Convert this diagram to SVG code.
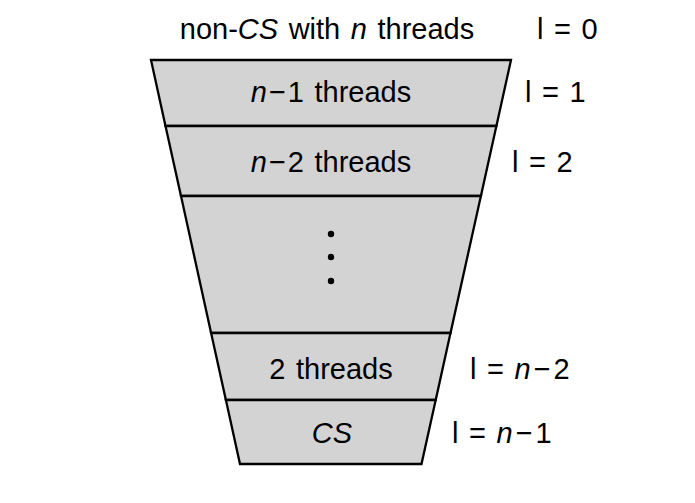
<svg xmlns="http://www.w3.org/2000/svg" width="695" height="503" viewBox="0 0 695 503">
<style>
text{font-family:"Liberation Sans",Arial,sans-serif;font-size:29px;word-spacing:2.5px;fill:#000}
.band{fill:#d3d3d3;stroke:#000;stroke-width:2.3;stroke-linejoin:miter}
.c{text-anchor:middle}
.i{font-style:italic}
</style>
<rect width="695" height="503" fill="#fff"/>
<g id="top">
<text x="327" y="39" class="c">non-<tspan class="i">CS</tspan> with <tspan class="i">n</tspan> threads</text>
<text x="537" y="39">l = 0</text>
</g>
<g id="band1">
<polygon class="band" points="151,60 511,60 496.4,126 165.5,126"/>
<text x="331" y="102" class="c"><tspan class="i">n</tspan><tspan dx="2">−</tspan><tspan dx="2">1 threads</tspan></text>
<text x="525" y="102">l = 1</text>
</g>
<g id="band2">
<polygon class="band" points="165.5,126 496.4,126 480.9,196 181,196"/>
<text x="331" y="172" class="c"><tspan class="i">n</tspan><tspan dx="2">−</tspan><tspan dx="2">2 threads</tspan></text>
<text x="512" y="172">l = 2</text>
</g>
<g id="band3">
<polygon class="band" points="181,196 480.9,196 450.5,333 211.1,333"/>
<circle cx="331" cy="234" r="3.2" fill="#000"/>
<circle cx="331" cy="257" r="3.2" fill="#000"/>
<circle cx="331" cy="281" r="3.2" fill="#000"/>
</g>
<g id="band4">
<polygon class="band" points="211.1,333 450.5,333 435.7,400 225.9,400"/>
<text x="331" y="379" class="c">2 threads</text>
<text x="470" y="379">l = <tspan class="i">n</tspan><tspan dx="3">−</tspan><tspan dx="3">2</tspan></text>
</g>
<g id="band5">
<polygon class="band" points="225.9,400 435.7,400 421.5,464 240,464"/>
<text x="332" y="443" class="c i">CS</text>
<text x="452" y="443">l = <tspan class="i">n</tspan><tspan dx="3">−</tspan><tspan dx="3">1</tspan></text>
</g>
<g id="connectors"></g>
</svg>
